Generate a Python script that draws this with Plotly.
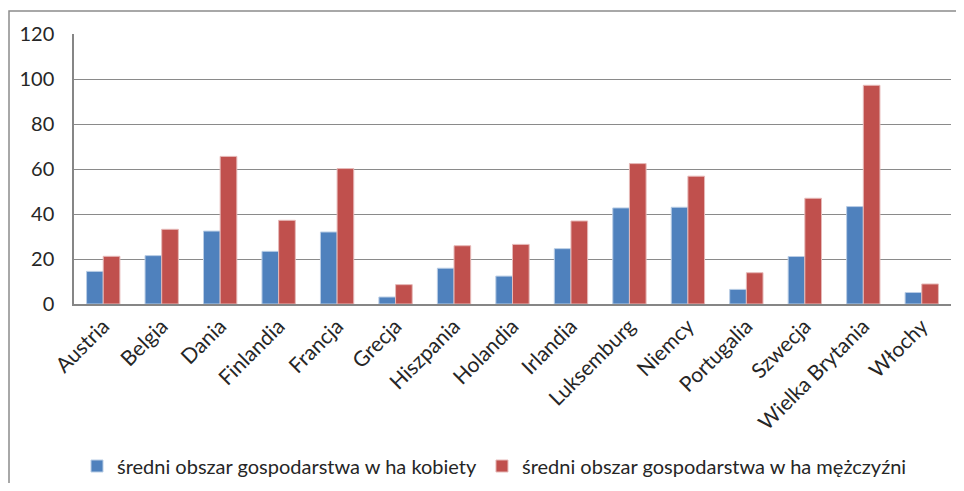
import plotly.graph_objects as go

countries = ["Austria", "Belgia", "Dania", "Finlandia", "Francja", "Grecja", "Hiszpania",
             "Holandia", "Irlandia", "Luksemburg", "Niemcy", "Portugalia", "Szwecja",
             "Wielka Brytania", "Włochy"]
kobiety = [14.5, 21.5, 32.4, 23.4, 32.0, 3.1, 15.9, 12.4, 24.6, 42.7, 43.0, 6.5, 21.1, 43.3, 5.1]
mezczyzni = [21.2, 33.2, 65.6, 37.2, 60.2, 8.6, 25.9, 26.5, 36.9, 62.4, 56.8, 13.9, 47.0, 97.2, 8.9]
y_ticks = [0, 20, 40, 60, 80, 100, 120]

FONT = "Lato, Noto Sans, sans-serif"

fig = go.Figure()
fig.add_trace(go.Bar(x=countries, y=kobiety, name="średni obszar gospodarstwa w ha kobiety",
                     marker=dict(color="#4F81BD", line=dict(color="#B9CDE5", width=1))))
fig.add_trace(go.Bar(x=countries, y=mezczyzni, name="średni obszar gospodarstwa w ha mężczyźni",
                     marker=dict(color="#C0504D", line=dict(color="#E6B9B8", width=1))))

# the page body adds an 8px offset, so the figure is laid out in page coords minus 8
OFF = 8
W, H = 964 - 2 * OFF, 491 - 2 * OFF
L, T = 74 - OFF, 34 - OFF
R = W - (951 - OFF)
B = H - (304 - OFF)
pw, ph = W - L - R, H - T - B

fig.update_layout(
    width=W, height=H,
    margin=dict(l=L, r=R, t=T, b=B, autoexpand=False),
    paper_bgcolor="white", plot_bgcolor="white",
    barmode="group", bargap=0.43, bargroupgap=0,
    font=dict(family=FONT, size=20, color="#262626"),
    showlegend=True,
    legend=dict(orientation="h", x=0.5 - 18 / pw, xanchor="center",
                y=(T + ph - (466 - OFF)) / ph, yanchor="middle",
                font=dict(size=20), itemwidth=30, traceorder="normal"),
    xaxis=dict(tickangle=-45, showgrid=False, showline=True, linecolor="#868686",
               linewidth=1.5, ticks="", tickfont=dict(size=21), automargin=False),
    yaxis=dict(range=[0, 120], tickvals=y_ticks, showgrid=True, gridcolor="#8a8a8a",
               gridwidth=1.2, showline=True, linecolor="#868686", linewidth=1.5,
               ticks="", ticklabelstandoff=14, tickfont=dict(size=20), zeroline=False,
               automargin=False),
    shapes=[dict(type="rect", xref="paper", yref="paper",
                 x0=(1 - L) / pw, x1=(W + 5 - L) / pw,
                 y0=(T + ph - (H + 5)) / ph, y1=(T + ph - (11 - OFF)) / ph,
                 line=dict(color="#8c8c8c", width=1.5), layer="below")],
)

fig.write_html("out.html")
